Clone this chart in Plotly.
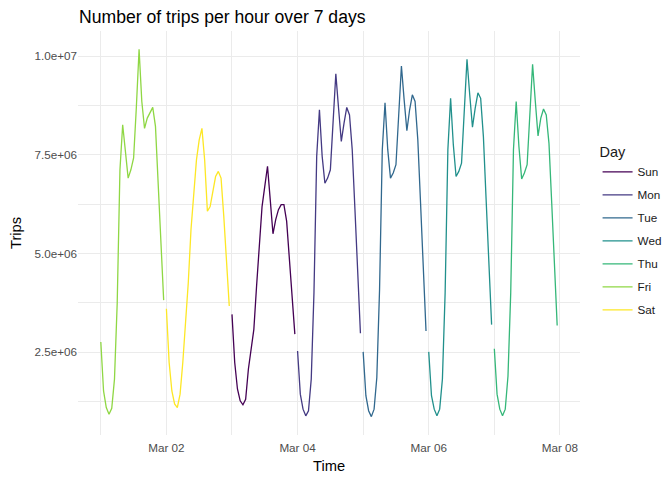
import pandas as pd
import plotly.graph_objects as go

# hourly trip counts, hour 0..23 for each date
fri = [2.76e6, 1.52e6, 1.10e6, 0.93e6, 1.08e6, 1.82e6, 3.75e6, 7.12e6, 8.26e6, 7.50e6, 6.91e6, 7.12e6,
       7.42e6, 8.70e6, 1.017e7, 8.85e6, 8.17e6, 8.43e6, 8.57e6, 8.70e6, 8.22e6, 6.70e6, 5.27e6, 3.82e6]
sat = [3.60e6, 2.24e6, 1.52e6, 1.19e6, 1.10e6, 1.44e6, 2.24e6, 3.25e6, 4.26e6, 5.61e6, 6.62e6, 7.37e6,
       7.88e6, 8.17e6, 7.37e6, 6.07e6, 6.19e6, 6.62e6, 6.95e6, 7.08e6, 6.91e6, 5.94e6, 4.76e6, 3.67e6]
sun = [3.46e6, 2.24e6, 1.57e6, 1.27e6, 1.17e6, 1.31e6, 2.07e6, 2.58e6, 3.08e6, 4.18e6, 5.27e6, 6.19e6,
       6.70e6, 7.21e6, 6.36e6, 5.50e6, 5.86e6, 6.11e6, 6.24e6, 6.24e6, 5.82e6, 4.93e6, 4.01e6, 2.96e6]
mon = [2.53e6, 1.44e6, 1.06e6, 0.89e6, 1.02e6, 1.82e6, 4.01e6, 7.46e6, 8.64e6, 7.46e6, 6.78e6, 6.91e6,
       7.12e6, 8.38e6, 9.55e6, 8.68e6, 7.84e6, 8.30e6, 8.70e6, 8.51e6, 7.63e6, 6.11e6, 4.51e6, 2.98e6]
tue = [2.51e6, 1.40e6, 1.02e6, 0.87e6, 1.06e6, 1.86e6, 4.09e6, 7.63e6, 8.82e6, 7.63e6, 6.91e6, 7.04e6,
       7.25e6, 8.55e6, 9.75e6, 8.89e6, 8.11e6, 8.64e6, 9.02e6, 8.85e6, 7.88e6, 6.28e6, 4.68e6, 3.04e6]
wed = [2.51e6, 1.40e6, 1.06e6, 0.89e6, 1.06e6, 1.82e6, 4.01e6, 7.63e6, 8.93e6, 7.75e6, 6.95e6, 7.08e6,
       7.29e6, 8.64e6, 9.92e6, 9.02e6, 8.20e6, 8.68e6, 9.07e6, 8.93e6, 7.96e6, 6.36e6, 4.76e6, 3.20e6]
thu = [2.59e6, 1.44e6, 1.06e6, 0.89e6, 1.06e6, 1.90e6, 4.01e6, 7.63e6, 8.85e6, 7.71e6, 6.89e6, 7.04e6,
       7.25e6, 8.47e6, 9.79e6, 8.85e6, 7.98e6, 8.43e6, 8.66e6, 8.51e6, 7.79e6, 6.28e6, 4.76e6, 3.18e6]

DAYS = ['Sun', 'Mon', 'Tue', 'Wed', 'Thu', 'Fri', 'Sat']
DATES = ['2019-03-03', '2019-03-04', '2019-03-05', '2019-03-06', '2019-03-07', '2019-03-01', '2019-03-02']
TRIPS = [sun, mon, tue, wed, thu, fri, sat]
COLORS = ['#440154', '#443A83', '#31688E', '#21908C', '#35B779', '#8FD744', '#FDE725']

X_TICKS = ['2019-03-02', '2019-03-04', '2019-03-06', '2019-03-08']
X_TICK_TEXT = ['Mar 02', 'Mar 04', 'Mar 06', 'Mar 08']
X_MINOR = ['2019-03-01', '2019-03-03', '2019-03-05', '2019-03-07']
Y_TICKS = [2.5e6, 5.0e6, 7.5e6, 1.0e7]
Y_TICK_TEXT = ['2.5e+06', '5.0e+06', '7.5e+06', '1.0e+07']
Y_MINOR = [1.25e6, 3.75e6, 6.25e6, 8.75e6]

FONT = 'Liberation Sans'
GRID = '#EBEBEB'

# the page body keeps its 8px margin, so the figure is drawn 8px smaller
W, H = 664, 472


def expanded(lo, hi, frac=0.05):
    pad = (hi - lo) * frac
    return lo - pad, hi + pad


fig = go.Figure()
all_times = []
all_vals = []
for day, date, vals, color in zip(DAYS, DATES, TRIPS, COLORS):
    times = pd.date_range(date, periods=len(vals), freq='h')
    all_times.extend(times)
    all_vals.extend(vals)
    fig.add_trace(go.Scatter(x=times, y=vals, mode='lines', name=day, legendgroup=day,
                             line=dict(color=color, width=1.3)))

t0, t1 = min(all_times), max(all_times)
pad = (t1 - t0) * 0.05
y0, y1 = expanded(min(all_vals), max(all_vals))

fig.update_layout(
    width=W, height=H,
    paper_bgcolor='white', plot_bgcolor='white',
    margin=dict(l=70, r=92, t=23, b=45, autoexpand=False),
    font=dict(family=FONT, color='black'),
    title=dict(text='Number of trips per hour over 7 days', x=71 / W, xref='container',
               y=1 - 9 / H, yref='container', yanchor='middle', automargin=False,
               font=dict(size=17.6, color='black')),
    legend=dict(title=dict(text='Day', font=dict(size=14.5)),
                font=dict(size=11.7, color='#1A1A1A'),
                x=1.035, xanchor='left', y=0.734, yanchor='top',
                tracegroupgap=4, itemwidth=30),
    showlegend=True,
)

fig.update_xaxes(
    range=[t0 - pad, t1 + pad], automargin=False,
    tickvals=pd.to_datetime(X_TICKS), ticktext=X_TICK_TEXT,
    tickfont=dict(size=11.7, color='#4D4D4D'), ticklabelstandoff=4,
    showgrid=True, gridcolor=GRID, gridwidth=1.1,
    minor=dict(tickvals=pd.to_datetime(X_MINOR), showgrid=True, gridcolor=GRID, gridwidth=0.6),
    zeroline=False, showline=False, ticks='',
    title=dict(text='Time', font=dict(size=14.7), standoff=8),
)
fig.update_yaxes(
    range=[y0, y1], automargin=False,
    tickvals=Y_TICKS, ticktext=Y_TICK_TEXT,
    tickfont=dict(size=11.7, color='#4D4D4D'),
    showgrid=True, gridcolor=GRID, gridwidth=1.1,
    minor=dict(tickvals=Y_MINOR, showgrid=True, gridcolor=GRID, gridwidth=0.6),
    zeroline=False, showline=False, ticks='',
    title=dict(text='Trips', font=dict(size=14.7), standoff=10),
)

fig.write_html('out.html')
